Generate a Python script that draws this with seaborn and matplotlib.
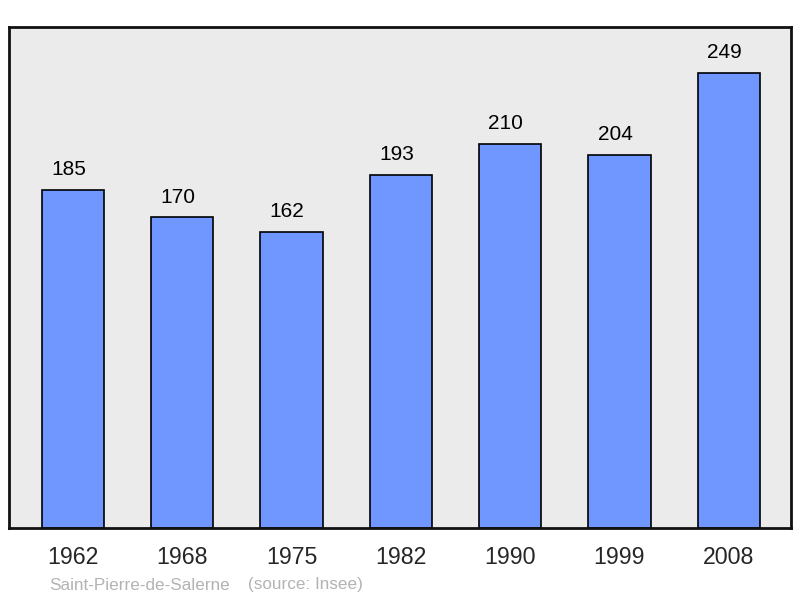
import matplotlib
matplotlib.use("Agg")
import matplotlib.pyplot as plt
import seaborn as sns
import pandas as pd

# Data: population by census year
years = ["1962", "1968", "1975", "1982", "1990", "1999", "2008"]
population = [185, 170, 162, 193, 210, 204, 249]
commune = "Saint-Pierre-de-Salerne"
source = "(source: Insee)"

df = pd.DataFrame({"year": years, "population": population})

sns.set_style("white")
plt.rcParams["font.family"] = ["Liberation Sans", "DejaVu Sans"]

fig = plt.figure(figsize=(8, 5.98), dpi=100)
ax = fig.add_axes([9 / 800, 70 / 598, 782 / 800, 501 / 598])
ax.set_facecolor("#ebebeb")

sns.barplot(data=df, x="year", y="population", order=years, color="#7097ff",
            saturation=1, width=0.57, edgecolor="black", linewidth=1.2, ax=ax)

# value labels sit slightly left of the bar centre in the original
for i, v in enumerate(population):
    ax.annotate(str(v), (i, v), xytext=(-3.2, 14.5), textcoords="offset points",
                ha="center", va="center", fontsize=15, color="black")

ax.set_xlim(-0.585, 6.57)
ax.set_ylim(0, 274)
ax.set_yticks([])
ax.set_xlabel("")
ax.set_ylabel("")
ax.tick_params(axis="x", length=0, pad=13, labelsize=16.7)
for s in ax.spines.values():
    s.set_linewidth(2)
    s.set_color("#111111")

fig.text(49 / 800, 1 - 585 / 598, commune, fontsize=12.3, color="#b3b3b3",
         va="center", ha="left")
fig.text(248 / 800, 1 - 585 / 598, source, fontsize=12.3, color="#b3b3b3",
         va="center", ha="left")

fig.savefig("out.png", dpi=100)
